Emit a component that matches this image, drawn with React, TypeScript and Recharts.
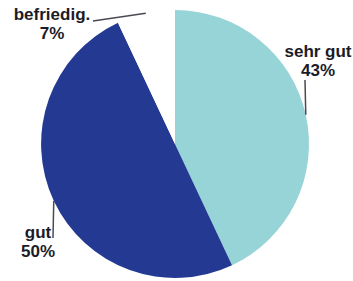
import React from 'react';
import { PieChart, Pie, Cell } from 'recharts';

const CATEGORIES = ['sehr gut', 'gut', 'befriedig.'];
const VALUES = [43, 50, 7];
const COLORS = ['#97d4d7', '#243a92', '#ffffff'];

// where each label sits relative to the point on the rim (line end, text centre)
const LABEL_LAYOUT: Record<string, { lx: number; ly: number; tx: number; ty: number }> = {
    'sehr gut': { lx: 305, ly: 80, tx: 318, ty: 57 },
    'gut': { lx: 53, ly: 238, tx: 38, ty: 238 },
    'befriedig.': { lx: 93, ly: 21, tx: 52, ty: 20 },
};

const data = CATEGORIES.map((name, i) => ({ name, value: VALUES[i] }));

const RAD = Math.PI / 180;

const renderLabel = (props: any) => {
    const { cx, cy, midAngle, outerRadius, name, value } = props;
    const sx = cx + outerRadius * Math.cos(-midAngle * RAD);
    const sy = cy + outerRadius * Math.sin(-midAngle * RAD);
    const l = LABEL_LAYOUT[name];
    return (
        <g>
            <line x1={sx} y1={sy} x2={l.lx} y2={l.ly} stroke="#4a4a55" strokeWidth={1.5} />
            <text
                x={l.tx}
                y={l.ty}
                textAnchor="middle"
                fill="#1c1c28"
                fontFamily="'Liberation Sans', Arial, sans-serif"
                fontWeight="bold"
                fontSize={17}
            >
                <tspan x={l.tx}>{name}</tspan>
                <tspan x={l.tx} dy={19}>{`${value}%`}</tspan>
            </text>
        </g>
    );
};

export default function App() {
    return (
        <div style={{ position: 'absolute', left: 0, top: 0, width: 353, height: 281, background: '#fff' }}>
            <PieChart width={353} height={281} margin={{ top: 0, right: 0, bottom: 0, left: 0 }}>
                <Pie
                    data={data}
                    dataKey="value"
                    nameKey="name"
                    cx={175}
                    cy={144}
                    outerRadius={134}
                    startAngle={90}
                    endAngle={-270}
                    stroke="none"
                    labelLine={false}
                    label={renderLabel}
                    isAnimationActive={false}
                >
                    {data.map((entry, i) => (
                        <Cell key={`cell-${entry.name}`} fill={COLORS[i]} />
                    ))}
                </Pie>
            </PieChart>
        </div>
    );
}
